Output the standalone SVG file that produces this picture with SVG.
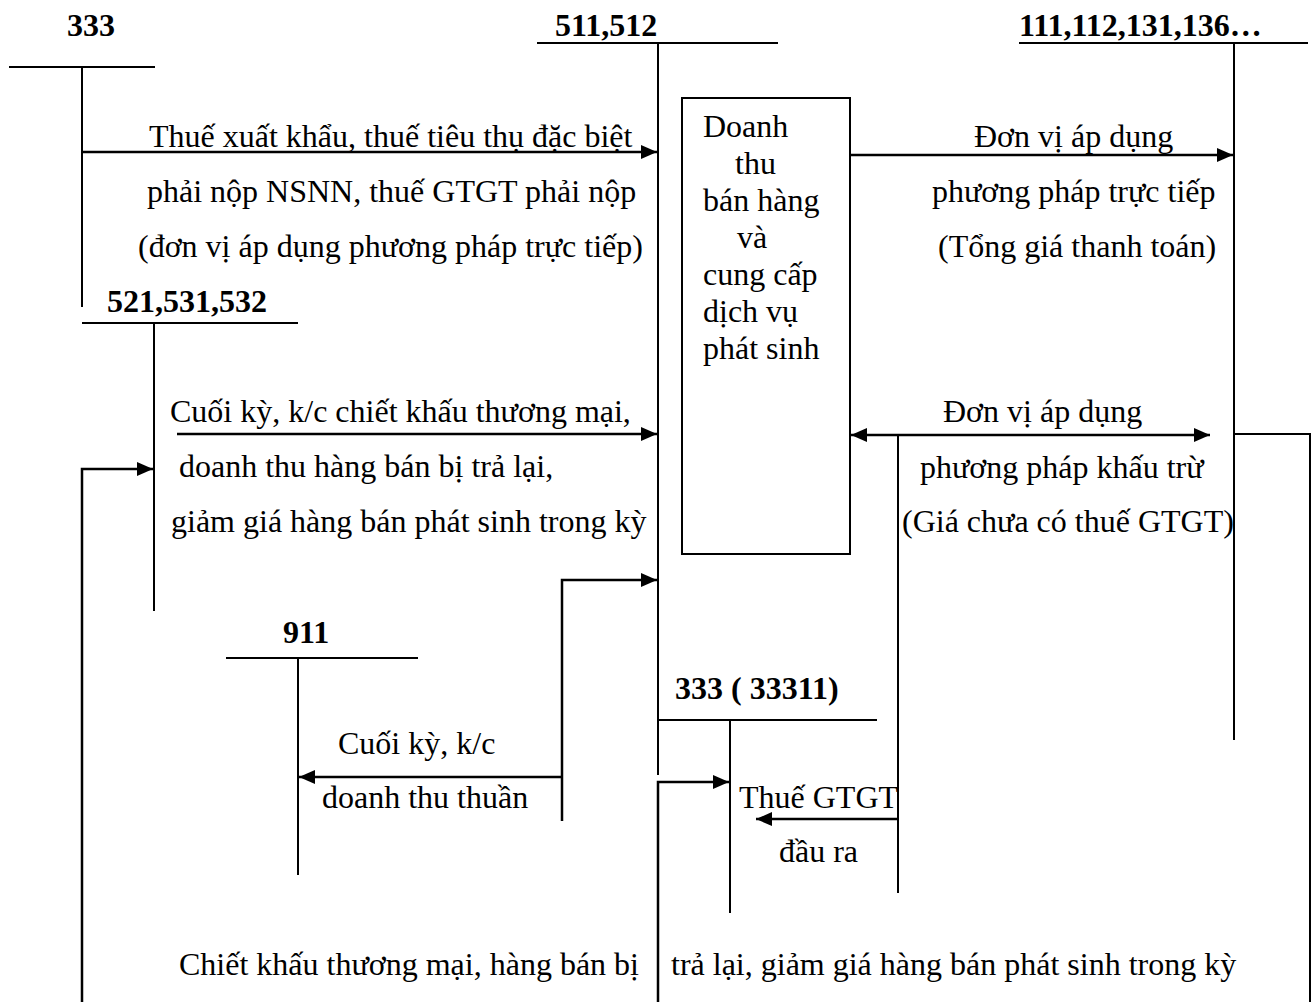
<svg xmlns="http://www.w3.org/2000/svg" width="1313" height="1002" viewBox="0 0 1313 1002">
<style>
.t{font-family:"Liberation Serif","Times New Roman",serif;font-size:32px;fill:#000}
.b{font-family:"Liberation Serif","Times New Roman",serif;font-size:32px;font-weight:bold;fill:#000}
.ln{stroke:#000;stroke-width:2;fill:none}
.ar{stroke:#000;stroke-width:2.5;fill:none}
</style>
<defs>
<marker id="ah" markerUnits="userSpaceOnUse" markerWidth="18" markerHeight="16" refX="16" refY="8" orient="auto-start-reverse">
<path d="M0,1 L16,8 L0,15 Z" fill="#000"/>
</marker>
</defs>
<rect width="1313" height="1002" fill="#fff"/>

<g id="acc-333">
<text class="b" x="67" y="36">333</text>
<line class="ln" x1="9" y1="67" x2="155" y2="67"/>
<line class="ln" x1="82" y1="67" x2="82" y2="307"/>
</g>
<g id="acc-511">
<text class="b" x="555" y="36">511,512</text>
<line class="ln" x1="537" y1="43" x2="778" y2="43"/>
<line class="ln" x1="658" y1="43" x2="658" y2="775"/>
</g>
<g id="acc-111">
<text class="b" x="1019" y="36">111,112,131,136…</text>
<line class="ln" x1="1019" y1="43" x2="1308" y2="43"/>
<line class="ln" x1="1234" y1="43" x2="1234" y2="740"/>
</g>
<g id="acc-521">
<text class="b" x="107" y="312">521,531,532</text>
<line class="ln" x1="82" y1="323" x2="298" y2="323"/>
<line class="ln" x1="154" y1="323" x2="154" y2="611"/>
</g>
<g id="acc-911">
<text class="b" x="283" y="643">911</text>
<line class="ln" x1="226" y1="658" x2="418" y2="658"/>
<line class="ln" x1="298" y1="658" x2="298" y2="875"/>
</g>
<g id="acc-33311">
<text class="b" x="675" y="699">333 ( 33311)</text>
<line class="ln" x1="657" y1="720" x2="877" y2="720"/>
<line class="ln" x1="730" y1="720" x2="730" y2="913"/>
</g>
<g id="box">
<rect x="682" y="98" width="168" height="456" fill="#fff" stroke="#000" stroke-width="2"/>
<text class="t" x="703" y="137">Doanh</text>
<text class="t" x="735" y="174">thu</text>
<text class="t" x="703" y="211">bán hàng</text>
<text class="t" x="737" y="248">và</text>
<text class="t" x="703" y="285">cung cấp</text>
<text class="t" x="703" y="322">dịch vụ</text>
<text class="t" x="703" y="359">phát sinh</text>
</g>

<g id="connectors">
<line class="ar" x1="82" y1="152" x2="657" y2="152" marker-end="url(#ah)"/>
<line class="ar" x1="850" y1="155" x2="1233" y2="155" marker-end="url(#ah)"/>
<line class="ar" x1="177" y1="434" x2="657" y2="434" marker-end="url(#ah)"/>
<line class="ar" x1="851" y1="435" x2="1210" y2="435" marker-start="url(#ah)" marker-end="url(#ah)"/>
<polyline class="ar" points="82,1002 82,469 153,469" marker-end="url(#ah)"/>
<polyline class="ar" points="562,821 562,580 657,580" marker-end="url(#ah)"/>
<line class="ar" x1="562" y1="777" x2="299" y2="777" marker-end="url(#ah)"/>
<polyline class="ar" points="658,1002 658,782 729,782" marker-end="url(#ah)"/>
<line class="ln" x1="898" y1="435" x2="898" y2="893"/>
<line class="ar" x1="898" y1="819" x2="756" y2="819" marker-end="url(#ah)"/>
<polyline class="ln" points="1234,434 1310,434 1310,1002"/>
</g>

<g id="labels">
<text class="t" x="149" y="147">Thuế xuất khẩu, thuế tiêu thụ đặc biệt</text>
<text class="t" x="147" y="202">phải nộp NSNN, thuế GTGT phải nộp</text>
<text class="t" x="138" y="257">(đơn vị áp dụng phương pháp trực tiếp)</text>
<text class="t" x="974" y="147">Đơn vị áp dụng</text>
<text class="t" x="932" y="202">phương pháp trực tiếp</text>
<text class="t" x="938" y="257">(Tổng giá thanh toán)</text>
<text class="t" x="170" y="422">Cuối kỳ, k/c chiết khấu thương mại,</text>
<text class="t" x="179" y="477">doanh thu hàng bán bị trả lại,</text>
<text class="t" x="171" y="532">giảm giá hàng bán phát sinh trong kỳ</text>
<text class="t" x="943" y="422">Đơn vị áp dụng</text>
<text class="t" x="920" y="478">phương pháp khấu trừ</text>
<text class="t" x="902" y="532">(Giá chưa có thuế GTGT)</text>
<text class="t" x="338" y="754">Cuối kỳ, k/c</text>
<text class="t" x="322" y="808">doanh thu thuần</text>
<text class="t" x="739" y="808">Thuế GTGT</text>
<text class="t" x="779" y="862">đầu ra</text>
<text class="t" x="179" y="975">Chiết khấu thương mại, hàng bán bị</text>
<text class="t" x="671" y="975">trả lại, giảm giá hàng bán phát sinh trong kỳ</text>
</g>
</svg>
